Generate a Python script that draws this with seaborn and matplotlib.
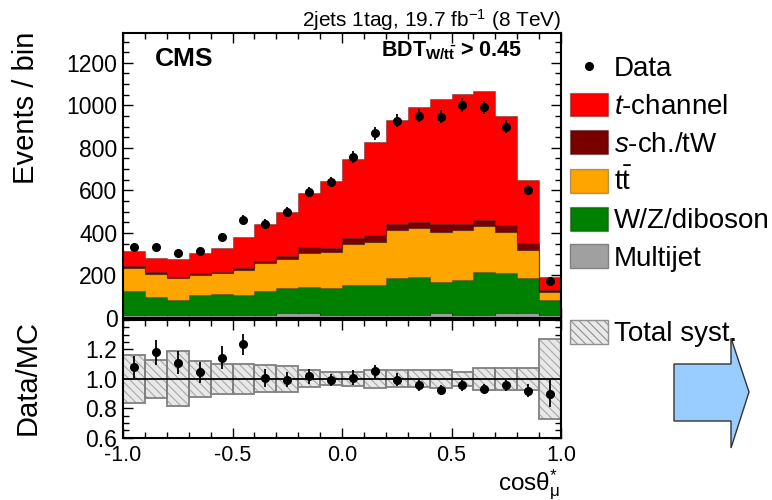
import matplotlib
matplotlib.use('Agg')
import matplotlib.pyplot as plt
from matplotlib.patches import Patch, Polygon
from matplotlib.lines import Line2D
from matplotlib.ticker import MultipleLocator
import seaborn as sns
import pandas as pd
import numpy as np

# bins of cos(theta*_mu)
bin_edges = [-1.0, -0.9, -0.8, -0.7, -0.6, -0.5, -0.4, -0.3, -0.2, -0.1, 0.0,
             0.1, 0.2, 0.3, 0.4, 0.5, 0.6, 0.7, 0.8, 0.9, 1.0]

# stacked MC, events per bin
t_channel = [70, 62, 81, 91, 112, 145, 174, 208, 256, 317, 374, 436, 486, 538, 585, 611, 608, 512, 299, 62]
s_ch_tw = [11, 12, 8, 10, 8, 8, 13, 15, 25, 15, 28, 32, 31, 31, 39, 31, 28, 31, 32, 11]
ttbar = [106, 108, 104, 97, 95, 120, 128, 136, 161, 173, 192, 204, 226, 226, 234, 234, 214, 195, 132, 39]
wz_diboson = [112, 82, 67, 90, 99, 90, 113, 116, 122, 123, 138, 138, 171, 179, 147, 163, 202, 186, 163, 67]
multijet = [16, 16, 16, 16, 16, 16, 16, 24, 24, 16, 16, 16, 16, 16, 24, 16, 16, 24, 24, 16]

data = [335, 332, 304, 316, 379, 463, 444, 499, 592, 639, 756, 868, 927, 951, 946, 1002, 990, 899, 600, 176]
data_err = [18, 18, 17, 18, 19, 22, 21, 22, 24, 25, 27, 29, 30, 31, 31, 32, 31, 30, 24, 13]

# ratio panel
ratio = [1.08, 1.18, 1.11, 1.045, 1.145, 1.235, 1.007, 0.995, 1.018, 0.993,
         1.007, 1.052, 0.995, 0.96, 0.925, 0.955, 0.93, 0.955, 0.92, 0.90]
ratio_err = [0.074, 0.085, 0.08, 0.07, 0.077, 0.072, 0.06, 0.05, 0.05, 0.04,
             0.05, 0.045, 0.045, 0.04, 0.035, 0.035, 0.035, 0.037, 0.045, 0.09]
syst = [0.164, 0.13, 0.186, 0.123, 0.10, 0.10, 0.092, 0.086, 0.058, 0.045,
        0.047, 0.06, 0.057, 0.057, 0.06, 0.048, 0.073, 0.073, 0.073, 0.27]

processes = ['t-channel', 's-ch./tW', 'tt', 'W/Z/diboson', 'Multijet']
colors = ['#ff0000', '#7a0000', '#ffa500', '#008000', '#a0a0a0']

sns.set_theme(style='ticks')
plt.rcParams['font.family'] = ['Liberation Sans', 'DejaVu Sans']
plt.rcParams['mathtext.fontset'] = 'custom'
plt.rcParams['mathtext.rm'] = 'Liberation Sans'
plt.rcParams['mathtext.it'] = 'Liberation Sans:italic'
plt.rcParams['mathtext.bf'] = 'Liberation Sans:bold'
plt.rcParams['axes.unicode_minus'] = False
plt.rcParams['hatch.linewidth'] = 0.8
plt.rcParams['text.color'] = 'black'
plt.rcParams['axes.labelcolor'] = 'black'

edges = np.array(bin_edges)
centers = (edges[:-1] + edges[1:]) / 2
widths = np.diff(edges)

rows = []
for name, vals in zip(processes, [t_channel, s_ch_tw, ttbar, wz_diboson, multijet]):
    for c, v in zip(centers, vals):
        rows.append({'x': c, 'events': v, 'process': name})
df = pd.DataFrame(rows)

fig = plt.figure(figsize=(7.72, 5.0), dpi=100)
ax = fig.add_axes([123 / 772, 1 - 318 / 500, 438 / 772, 285 / 500])
axr = fig.add_axes([123 / 772, 1 - 437.7 / 500, 438 / 772, 117.7 / 500])

sns.histplot(data=df, x='x', weights='events', hue='process', hue_order=processes,
             palette=colors, multiple='stack', bins=bin_edges, element='step',
             alpha=1, linewidth=0.8, edgecolor=(0, 0, 0, 0.3), legend=False, ax=ax)
ax.errorbar(centers, data, yerr=data_err, fmt='o', color='black', ms=5.5,
            elinewidth=1.3, capsize=0, zorder=5)

ax.set_xlim(-1, 1)
ax.set_ylim(0, 1340)
ax.set_xlabel('')
ax.set_ylabel('Events / bin', fontsize=21)
ax.yaxis.set_label_coords(-0.19, 0.739)
ax.set_yticks([0, 200, 400, 600, 800, 1000, 1200])
ax.yaxis.set_minor_locator(MultipleLocator(50))
ax.xaxis.set_major_locator(MultipleLocator(0.5))
ax.xaxis.set_minor_locator(MultipleLocator(0.1))
ax.tick_params(labelbottom=False)

ax.text(0.073, 0.91, 'CMS', transform=ax.transAxes, fontsize=19, fontweight='bold',
        va='center', ha='left')
ax.text(0.911, 0.937, r'$\mathbf{BDT_{W/t\bar{t}}}$ > 0.45', transform=ax.transAxes,
        fontsize=15.5, fontweight='bold', va='center', ha='right')
ax.set_title(r'2jets 1tag, 19.7 fb$^{-1}$ (8 TeV)', loc='right', fontsize=15, pad=4)

# ratio panel
axr.bar(centers, 2 * np.array(syst), bottom=1 - np.array(syst), width=widths,
        facecolor='#e8e8e8', edgecolor='#a8a8a8', hatch='\\\\\\\\', linewidth=0, zorder=1)
axr.bar(centers, 2 * np.array(syst), bottom=1 - np.array(syst), width=widths,
        fill=False, edgecolor='#808080', linewidth=1.3, zorder=2)
axr.axhline(1.0, color='black', lw=1.3, zorder=3)
axr.errorbar(centers, ratio, yerr=ratio_err, fmt='o', color='black', ms=5.5,
             elinewidth=1.3, capsize=0, zorder=5)
axr.set_xlim(-1, 1)
axr.set_ylim(0.6, 1.4)
axr.set_yticks([0.6, 0.8, 1.0, 1.2])
axr.set_yticklabels(['0.6', '0.8', '1.0', '1.2'])
axr.yaxis.set_minor_locator(MultipleLocator(0.05))
axr.xaxis.set_minor_locator(MultipleLocator(0.1))
axr.set_xticks([-1.0, -0.5, 0.0, 0.5, 1.0])
axr.set_xticklabels(['-1.0', '-0.5', '0.0', '0.5', '1.0'])
axr.set_ylabel('Data/MC', fontsize=21)
axr.yaxis.set_label_coords(-0.185, 0.511)

for a in (ax, axr):
    for s in a.spines.values():
        s.set_linewidth(1.5)
        s.set_color('black')
    a.tick_params(which='both', direction='in', top=True, right=True, labelsize=16.5,
                  colors='black', pad=4)
    a.tick_params(which='major', length=7, width=1)
    a.tick_params(which='minor', length=4, width=1)
axr.tick_params(axis='x', which='major', pad=5, labelsize=15.5)

fig.text(560 / 772, 0.02, r'cos$\mathrm{\theta}^{*}_{\mathrm{\mu}}$', fontsize=17.5,
         ha='right', va='baseline')

handles = [
    Line2D([], [], marker='o', color='black', ls='none', ms=5.5),
    Patch(facecolor=colors[0], edgecolor=(0, 0, 0, 0.3)),
    Patch(facecolor=colors[1], edgecolor=(0, 0, 0, 0.3)),
    Patch(facecolor=colors[2], edgecolor=(0, 0, 0, 0.3)),
    Patch(facecolor=colors[3], edgecolor=(0, 0, 0, 0.3)),
    Patch(facecolor=colors[4], edgecolor='#808080'),
    Patch(visible=False),
    Patch(facecolor='#e8e8e8', edgecolor='#909090', hatch='\\\\\\\\'),
]
labels = ['Data', r'$t$-channel', r'$s$-ch./tW', r't$\mathrm{\bar{t}}$', 'W/Z/diboson',
          'Multijet', ' ', 'Total syst.']
fig.legend(handles, labels, loc='upper left', bbox_to_anchor=(570 / 772, 1 - 55 / 500),
           frameon=False, fontsize=20, borderpad=0, borderaxespad=0,
           handlelength=1.37, handleheight=0.94, handletextpad=0.2, labelspacing=0.37)

# slide arrow
arrow_px = [(674, 364), (731, 364), (731, 338), (749, 392), (731, 448), (731, 421), (674, 421)]
fig.patches.append(Polygon([(x / 772, 1 - y / 500) for x, y in arrow_px], closed=True,
                           transform=fig.transFigure, facecolor='#99ccff',
                           edgecolor='#333333', linewidth=1))

fig.savefig('out.png', dpi=100)
